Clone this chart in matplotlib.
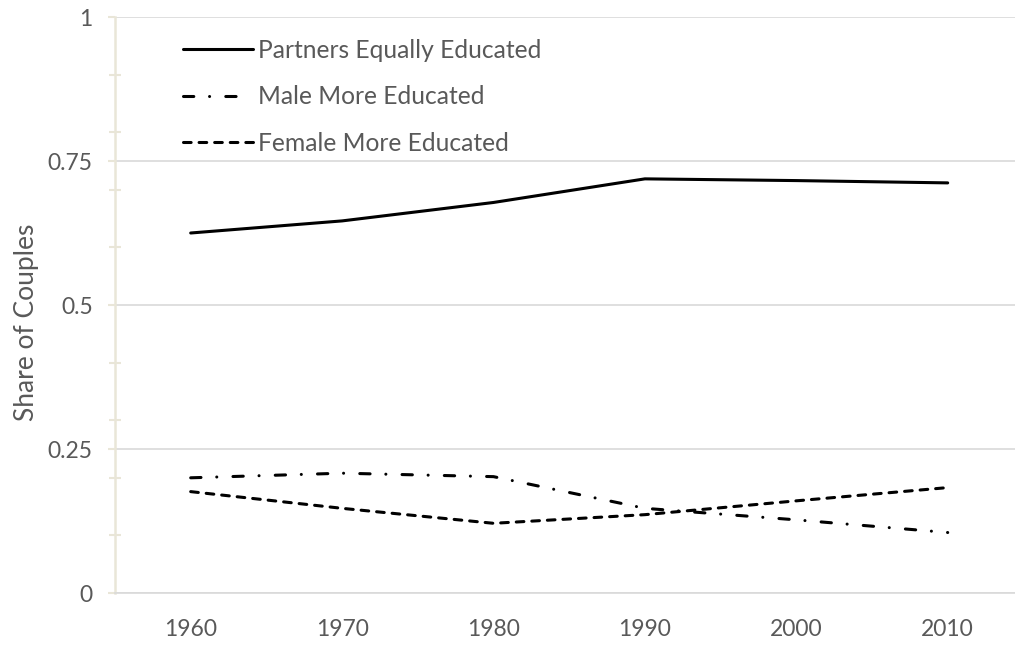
import matplotlib
matplotlib.use("Agg")
import matplotlib.pyplot as plt
from matplotlib.ticker import FixedLocator
from matplotlib.lines import Line2D

years = [1960, 1970, 1980, 1990, 2000, 2010]
equal = [0.625, 0.646, 0.678, 0.719, 0.716, 0.712]
male_more = [0.200, 0.208, 0.202, 0.147, 0.127, 0.105]
female_more = [0.176, 0.147, 0.121, 0.136, 0.160, 0.183]
labels = ["Partners Equally Educated", "Male More Educated", "Female More Educated"]
yticks = [0, 0.25, 0.5, 0.75, 1]
yticklabels = ["0", "0.25", "0.5", "0.75", "1"]

TEXT = "#595959"
GRID = "#D9D9D9"
BEIGE = "#E9E6D8"
plt.rcParams['font.family'] = ['Lato', 'DejaVu Sans']

fig = plt.figure(figsize=(10.15, 6.46), dpi=100)
ax = fig.add_axes([115/1015, 53/646, 908.4/1015, 576/646])

lw = 2.2
dashdot = (3.37, 5.16, 0.01, 5.3)
dashed = (2.5, 2.6)
l1, = ax.plot(years, equal, color="black", lw=lw, solid_capstyle="round", solid_joinstyle="round")
l2, = ax.plot(years, male_more, color="black", lw=lw, linestyle=(0, dashdot),
              dash_capstyle="round", dash_joinstyle="round")
l3, = ax.plot(years, female_more, color="black", lw=lw, linestyle=(0, dashed),
              dash_capstyle="round", dash_joinstyle="round")

# legend proxy for the dash-dot series (Excel shows "– · –" in the key)
l2_key = Line2D([], [], color="black", lw=lw, linestyle=(0, dashdot + (3.37, 40)),
                dash_capstyle="round")

ax.set_xlim(1955, 2015)
ax.set_ylim(0, 1)
ax.set_xticks(years)
ax.set_xticklabels([str(y) for y in years])
ax.set_yticks(yticks)
ax.set_yticklabels(yticklabels)
ax.yaxis.set_minor_locator(FixedLocator([0.1, 0.2, 0.3, 0.4, 0.6, 0.7, 0.8, 0.9]))

for s in ["top", "right"]:
    ax.spines[s].set_visible(False)
ax.spines["left"].set_color(BEIGE)
ax.spines["left"].set_linewidth(1.8)
ax.spines["bottom"].set_color(GRID)
ax.spines["bottom"].set_linewidth(1.2)

ax.grid(axis="y", color=GRID, lw=1.2)
ax.set_axisbelow(True)

ax.tick_params(axis="x", length=0, pad=19, labelsize=16.5, labelcolor=TEXT)
ax.tick_params(axis="y", which="major", direction="out", length=5, width=1.5, color=BEIGE,
               pad=11, labelsize=16.5, labelcolor=TEXT)
ax.tick_params(axis="y", which="minor", direction="inout", length=9, width=1.5, color=BEIGE)

ax.set_ylabel("Share of Couples", fontsize=19, color=TEXT)
ax.yaxis.set_label_coords(-0.084, 0.47)

F = 17.7
Fpx = F * 100 / 72
leg = ax.legend([l1, l2_key, l3], labels, loc="upper left",
                bbox_to_anchor=(183/1015, 1 - 39/646), bbox_transform=fig.transFigure,
                frameon=False, fontsize=F, handlelength=70/Fpx, handletextpad=0.22,
                labelspacing=0.95, borderpad=0, borderaxespad=0)
for t in leg.get_texts():
    t.set_color(TEXT)

fig.savefig("out.png", dpi=100)
